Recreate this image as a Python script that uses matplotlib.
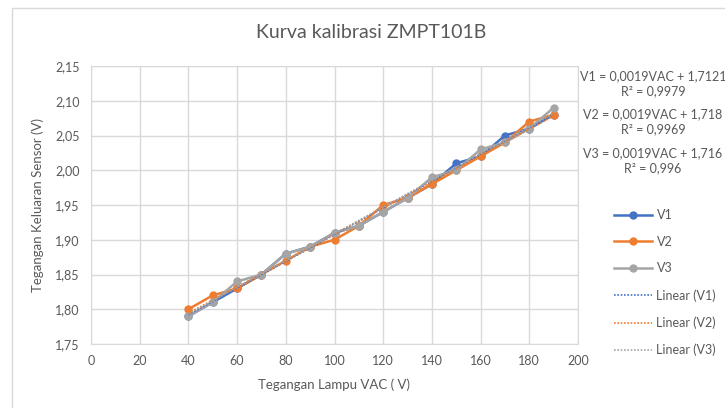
import numpy as np
import matplotlib
matplotlib.use("Agg")
import matplotlib.pyplot as plt
from matplotlib.lines import Line2D
from matplotlib.patches import Rectangle
from matplotlib.ticker import FuncFormatter, MultipleLocator

plt.rcParams['font.family'] = ['Lato', 'DejaVu Sans']

# data
vac = [40, 50, 60, 70, 80, 90, 100, 110, 120, 130, 140, 150, 160, 170, 180, 190]
v1 = [1.79, 1.81, 1.83, 1.85, 1.88, 1.89, 1.91, 1.92, 1.94, 1.96, 1.98, 2.01, 2.02, 2.05, 2.06, 2.08]
v2 = [1.80, 1.82, 1.83, 1.85, 1.87, 1.89, 1.90, 1.92, 1.95, 1.96, 1.98, 2.00, 2.02, 2.04, 2.07, 2.08]
v3 = [1.79, 1.81, 1.84, 1.85, 1.88, 1.89, 1.91, 1.92, 1.94, 1.96, 1.99, 2.00, 2.03, 2.04, 2.06, 2.09]
equations = ["V1 = 0,0019VAC + 1,7121", "V2 = 0,0019VAC + 1,718", "V3 = 0,0019VAC + 1,716"]
r2_labels = ["R\u00b2 = 0,9979", "R\u00b2 = 0,9969", "R\u00b2 = 0,996"]

colors = ['#4472C4', '#ED7D31', '#A5A5A5']
text_color = '#595959'
grid_color = '#D9D9D9'

fig = plt.figure(figsize=(7.25, 4.08), dpi=100)
# outer chart frame
fig.patches.append(Rectangle((12 / 725, -0.1), 1.1, 1 - 8 / 408 + 0.1,
                             transform=fig.transFigure, fill=False,
                             edgecolor=grid_color, linewidth=1))

ax = fig.add_axes([91 / 725, 1 - 344 / 408, 487 / 725, 278 / 408])

series = [v1, v2, v3]
names = ['V1', 'V2', 'V3']
x = np.array(vac)
for ys, c in zip(series, colors):
    ax.plot(x, ys, color=c, linewidth=1.8, marker='o', markersize=5, zorder=3)
# linear trendlines
for ys, c in zip(series, colors):
    k, b = np.polyfit(x, ys, 1)
    ax.plot(x, k * x + b, color=c, linewidth=1.2, linestyle=(0, (1, 1)), zorder=4)

ax.set_xlim(0, 200)
ax.set_ylim(1.75, 2.15)
ax.xaxis.set_major_locator(MultipleLocator(20))
ax.yaxis.set_major_locator(MultipleLocator(0.05))
ax.yaxis.set_major_formatter(FuncFormatter(lambda v, p: f"{v:.2f}".replace('.', ',')))
ax.grid(True, color=grid_color, linewidth=1)
ax.set_axisbelow(True)
for s in ax.spines.values():
    s.set_color(grid_color)
ax.tick_params(length=0, labelsize=9, colors=text_color, pad=8)

ax.set_xlabel("Tegangan Lampu VAC ( V)", fontsize=9.5, color=text_color, labelpad=8)
ax.set_ylabel("Tegangan Keluaran Sensor (V)", fontsize=9.5, color=text_color, labelpad=8)
fig.text(371 / 725, 1 - 33 / 408, "Kurva kalibrasi ZMPT101B", fontsize=14,
         color=text_color, ha='center', va='center')

# trendline equations
eq_y = [76, 114, 153]
for eq, r2, yy in zip(equations, r2_labels, eq_y):
    fig.text(653 / 725, 1 - yy / 408, eq, fontsize=9, color=text_color, ha='center', va='center')
    fig.text(653 / 725, 1 - (yy + 15) / 408, r2, fontsize=9, color=text_color, ha='center', va='center')

handles = []
labels = []
for n, c in zip(names, colors):
    handles.append(Line2D([], [], color=c, linewidth=1.8, marker='o', markersize=5))
    labels.append(n)
for n, c in zip(names, colors):
    handles.append(Line2D([], [], color=c, linewidth=1.2, linestyle=(0, (1, 1))))
    labels.append(f"Linear ({n})")
leg = fig.legend(handles, labels, loc='upper left', bbox_to_anchor=(609 / 725, 1 - 204 / 408),
                 frameon=False, fontsize=9, labelspacing=1.18, handlelength=3.0,
                 handletextpad=0.4, borderaxespad=0)
for t in leg.get_texts():
    t.set_color(text_color)

fig.savefig("out.png", dpi=100)
